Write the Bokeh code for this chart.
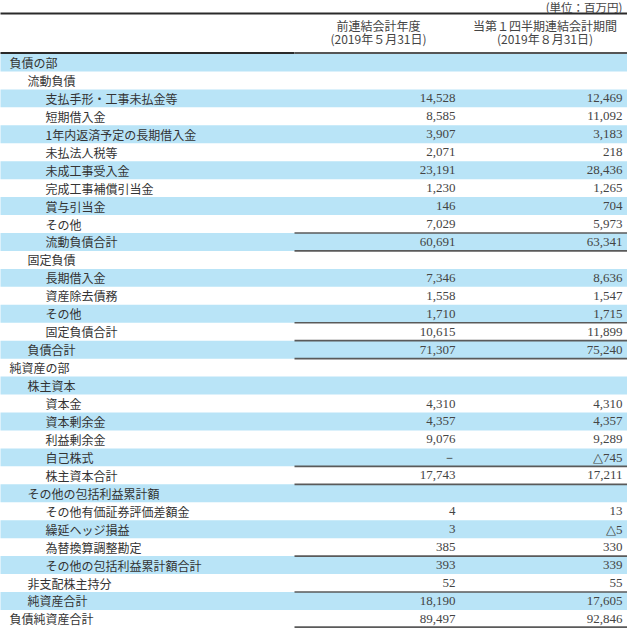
from bokeh.plotting import figure
from bokeh.models import ColumnDataSource, Range1d
from bokeh.core.properties import value
from bokeh.embed import file_html
from bokeh.resources import INLINE

# ---- data ----
unit_label = "(単位：百万円)"
col_titles = ["前連結会計年度", "当第１四半期連結会計期間"]
col_dates = ["(2019年５月31日)", "(2019年８月31日)"]

labels = ["負債の部", "流動負債", "支払手形・工事未払金等", "短期借入金",
          "1年内返済予定の長期借入金", "未払法人税等", "未成工事受入金",
          "完成工事補償引当金", "賞与引当金", "その他", "流動負債合計",
          "固定負債", "長期借入金", "資産除去債務", "その他", "固定負債合計",
          "負債合計", "純資産の部", "株主資本", "資本金", "資本剰余金",
          "利益剰余金", "自己株式", "株主資本合計", "その他の包括利益累計額",
          "その他有価証券評価差額金", "繰延ヘッジ損益", "為替換算調整勘定",
          "その他の包括利益累計額合計", "非支配株主持分", "純資産合計",
          "負債純資産合計"]
indent = [0, 1, 2, 2, 2, 2, 2, 2, 2, 2, 2, 1, 2, 2, 2, 2, 1, 0, 1, 2, 2, 2,
          2, 2, 1, 2, 2, 2, 2, 1, 1, 0]
prev_vals = [None, None, 14528, 8585, 3907, 2071, 23191, 1230, 146, 7029,
             60691, None, 7346, 1558, 1710, 10615, 71307, None, None, 4310,
             4357, 9076, 0, 17743, None, 4, 3, 385, 393, 52, 18190, 89497]
curr_vals = [None, None, 12469, 11092, 3183, 218, 28436, 1265, 704, 5973,
             63341, None, 8636, 1547, 1715, 11899, 75240, None, None, 4310,
             4357, 9289, -745, 17211, None, 13, -5, 330, 339, 55, 17605, 92846]
# row boundaries (top edge of row index) that carry a ruled line
rule_rows = [10, 11, 15, 16, 17, 23, 24, 28, 30, 32]

# ---- layout ----
W, H = 627, 628
X0, X1 = 8, 8 + W
Y0, Y1 = 8, 8 + H
LEFT, RIGHT = 6, 635
COL_SPLIT = 302
COL_MID = 470
TABLE_TOP = 61.0
ROW_H = 17.95
BLUE = "#b9e4f7"


def fmt(v):
    if v is None:
        return ""
    if v == 0:
        return "－"
    if v < 0:
        return "△{:,}".format(-v)
    return "{:,}".format(v)


n = len(labels)
tops = [TABLE_TOP + i * ROW_H for i in range(n)]
bottoms = [t + ROW_H for t in tops]
mids = [t + ROW_H / 2 for t in tops]

p = figure(width=W, height=H, output_backend="svg", toolbar_location=None,
           x_range=Range1d(X0, X1), y_range=Range1d(Y1, Y0),
           x_axis_location=None, y_axis_location=None, min_border=0,
           background_fill_color="white", border_fill_color="white")
p.outline_line_color = None
p.xgrid.visible = False
p.ygrid.visible = False

# shaded bands (every other row)
shaded = [i for i in range(n) if i % 2 == 0]
p.quad(left=[LEFT] * len(shaded), right=[RIGHT] * len(shaded),
       top=[tops[i] for i in shaded], bottom=[bottoms[i] for i in shaded],
       fill_color=BLUE, line_color=None)

# top rule and header rule
p.segment(x0=[LEFT], x1=[RIGHT], y0=[21], y1=[21], line_color="#2a2a2a", line_width=1.8)
p.segment(x0=[LEFT], x1=[COL_SPLIT], y0=[TABLE_TOP - 0.5], y1=[TABLE_TOP - 0.5],
          line_color="#2a2a2a", line_width=2)
p.segment(x0=[COL_SPLIT], x1=[RIGHT], y0=[TABLE_TOP - 0.5], y1=[TABLE_TOP - 0.5],
          line_color="#555555", line_width=1.8)

# total rules
ry = [TABLE_TOP + k * ROW_H - (0.8 if k == n else 0) for k in rule_rows]
p.segment(x0=[COL_SPLIT] * len(ry), x1=[RIGHT] * len(ry), y0=ry, y1=ry,
          line_color="#5a5a5a", line_width=1.7)

# unit label
p.text(x=[630], y=[14], text=[unit_label], text_align="right",
       text_baseline="middle", text_font=value("Noto Sans CJK JP"),
       text_font_size="11.5px", text_color="#444444")

# column headers
hx = [(COL_SPLIT + COL_MID) / 2, (COL_MID + RIGHT) / 2]
p.text(x=hx, y=[33, 33], text=col_titles, text_align="center",
       text_baseline="middle", text_font=value("Noto Sans CJK JP"),
       text_font_size="12px", text_color="#444444")
p.text(x=hx, y=[46, 46], text=col_dates, text_align="center",
       text_baseline="middle", text_font=value("Noto Sans CJK JP"),
       text_font_size="12px", text_color="#444444")

# row labels
lsrc = ColumnDataSource(dict(x=[17 + 18 * d for d in indent], y=mids, t=labels))
p.text(x="x", y="y", text="t", source=lsrc, text_align="left",
       text_baseline="middle", text_font=value("Noto Sans CJK JP"),
       text_font_size="12px", text_color="#333333")

# values
vsrc = ColumnDataSource(dict(
    x=[463] * n + [630] * n,
    y=mids + mids,
    t=[fmt(v) for v in prev_vals] + [fmt(v) for v in curr_vals]))
p.text(x="x", y="y", text="t", source=vsrc, text_align="right",
       text_baseline="middle", text_font=value("Liberation Serif"),
       text_font_size="13px", text_color="#444444")

open("out.html", "w").write(file_html(p, INLINE))
